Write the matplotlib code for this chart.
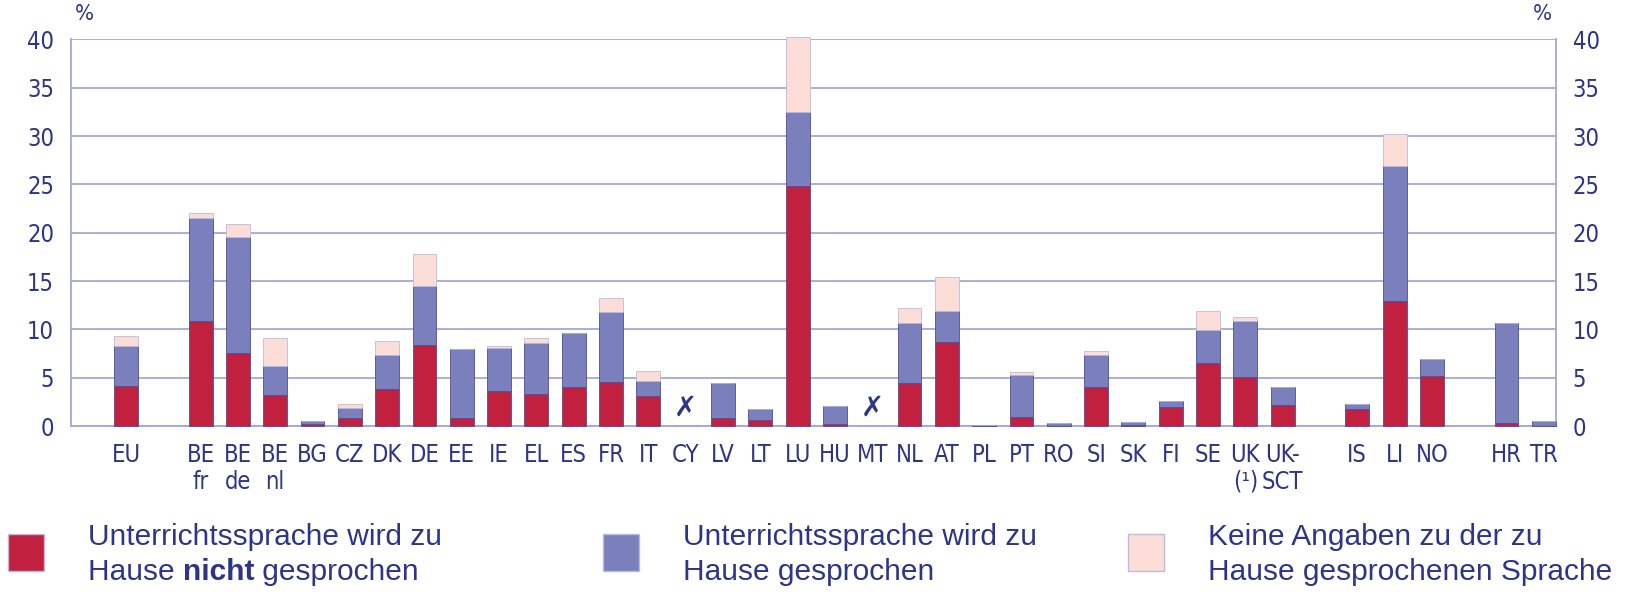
import numpy as np
import matplotlib
matplotlib.use('Agg')
import matplotlib.pyplot as plt
from matplotlib.patches import Rectangle

# Countries and slot positions (gaps between groups)
labels = ['EU', 'BE\nfr', 'BE\nde', 'BE\nnl', 'BG', 'CZ', 'DK', 'DE', 'EE', 'IE', 'EL', 'ES',
          'FR', 'IT', 'CY', 'LV', 'LT', 'LU', 'HU', 'MT', 'NL', 'AT', 'PL', 'PT', 'RO',
          'SI', 'SK', 'FI', 'SE', 'UK\n(¹)', 'UK-\nSCT', 'IS', 'LI', 'NO', 'HR', 'TR']
slots = [0, 2, 3, 4, 5, 6, 7, 8, 9, 10, 11, 12, 13, 14, 15, 16, 17, 18, 19, 20, 21, 22, 23,
         24, 25, 26, 27, 28, 29, 30, 31, 33, 34, 35, 37, 38]

# Unterrichtssprache wird zu Hause nicht gesprochen
not_spoken = [4.1, 10.9, 7.6, 3.2, 0.2, 0.8, 3.8, 8.4, 0.8, 3.6, 3.3, 4.0,
              4.6, 3.1, 0, 0.8, 0.6, 24.8, 0.2, 0, 4.5, 8.7, 0.05, 0.9, 0.05,
              4.0, 0.1, 2.0, 6.5, 5.1, 2.2, 1.8, 12.9, 5.2, 0.35, 0.05]
# Unterrichtssprache wird zu Hause gesprochen
spoken = [4.2, 10.6, 12.0, 3.05, 0.3, 1.1, 3.5, 6.1, 7.2, 4.5, 5.3, 5.6,
          7.15, 1.6, 0, 3.6, 1.2, 7.7, 1.9, 0, 6.15, 3.2, 0.05, 4.4, 0.3,
          3.3, 0.35, 0.6, 3.4, 5.8, 1.8, 0.5, 14.0, 1.7, 10.35, 0.45]
# Keine Angaben
no_data = [1.0, 0.5, 1.3, 2.85, 0, 0.4, 1.5, 3.3, 0, 0.2, 0.5, 0,
           1.45, 1.0, 0, 0, 0, 7.8, 0, 0, 1.55, 3.5, 0, 0.3, 0,
           0.5, 0, 0, 2.0, 0.4, 0, 0, 3.3, 0, 0, 0]
missing = ['CY', 'MT']

red = '#C1203F'
blue = '#7B80BC'
pink = '#FCDDD8'
edge = '#4B4F9C'
navy = '#2E3487'
gridc = '#A4A8D2'

plt.rcParams['font.family'] = ['Liberation Sans', 'DejaVu Sans']
tick_font = dict(family='DejaVu Sans', stretch='condensed')

fig = plt.figure(figsize=(16.3, 5.93), dpi=100)
ax = fig.add_axes([0.0434, 0.2816, 0.9113, 0.6518])

x = np.array(slots, dtype=float)
nsp = np.array(not_spoken)
sp = np.array(spoken)
nd = np.array(no_data)
w = 0.64
ax.bar(x, nsp, w, color=red, edgecolor=edge, linewidth=0.6, zorder=3, clip_on=False)
ax.bar(x, sp, w, bottom=nsp, color=blue, edgecolor=edge, linewidth=0.6, zorder=3, clip_on=False)
ax.bar(x, nd, w, bottom=nsp + sp, color=pink, edgecolor='#B9BCE0', linewidth=0.6, zorder=3,
       clip_on=False)

# no data marker
for lab, s in zip(labels, slots):
    if lab in missing:
        ax.text(s, 1.9, '✗', ha='center', va='center', fontsize=20, color=navy,
                fontweight='bold', family='DejaVu Sans', zorder=4)

ax.set_xlim(-1.48, 38.33)
ax.set_ylim(0, 40)
ax.set_yticks(range(0, 41, 5))
ax.yaxis.grid(True, color=gridc, linewidth=1.3, zorder=0)
ax.set_axisbelow(True)
ax.set_xticks(slots)
ax.set_xticklabels(labels, fontsize=17, color=navy, linespacing=1.15, va='top', **tick_font)
ax.tick_params(axis='x', length=0, pad=12)
ax.tick_params(axis='y', length=0, labelsize=17, labelcolor=navy, pad=12,
               labelleft=True, labelright=True)
for tick in ax.yaxis.get_major_ticks():
    for lbl in (tick.label1, tick.label2):
        lbl.set_fontstretch('condensed')
        lbl.set_family('DejaVu Sans')
for sp_name in ['left', 'right', 'bottom']:
    ax.spines[sp_name].set_color(gridc)
    ax.spines[sp_name].set_linewidth(1.3)
ax.spines['top'].set_visible(False)

ax.text(0.003, 1.04, '%', transform=ax.transAxes, fontsize=16, color=navy, ha='left',
        va='bottom', **tick_font)
ax.text(0.997, 1.04, '%', transform=ax.transAxes, fontsize=16, color=navy, ha='right',
        va='bottom', **tick_font)

# Legend built by hand
items = [
    (red, 0.005, ['Unterrichtssprache wird zu', ('Hause ', 'nicht', ' gesprochen')]),
    (blue, 0.370, ['Unterrichtssprache wird zu', 'Hause gesprochen']),
    (pink, 0.692, ['Keine Angaben zu der zu', 'Hause gesprochenen Sprache']),
]
fig.canvas.draw()
renderer = fig.canvas.get_renderer()
for color, x0, lines in items:
    fig.patches.append(Rectangle((x0, 0.037), 0.022, 0.063, transform=fig.transFigure,
                                 facecolor=color, edgecolor='#B9BCE0', linewidth=1))
    tx = x0 + 0.049
    fig.text(tx, 0.094, lines[0], fontsize=21.5, color=navy, ha='left', va='center')
    second = lines[1]
    if isinstance(second, tuple):
        cur = tx
        for i, part in enumerate(second):
            t = fig.text(cur, 0.036, part, fontsize=21.5, color=navy, ha='left', va='center',
                         fontweight='bold' if i == 1 else 'normal')
            bb = t.get_window_extent(renderer)
            cur = cur + bb.width / fig.bbox.width
    else:
        fig.text(tx, 0.036, second, fontsize=21.5, color=navy, ha='left', va='center')

fig.savefig('out.png', dpi=100)
